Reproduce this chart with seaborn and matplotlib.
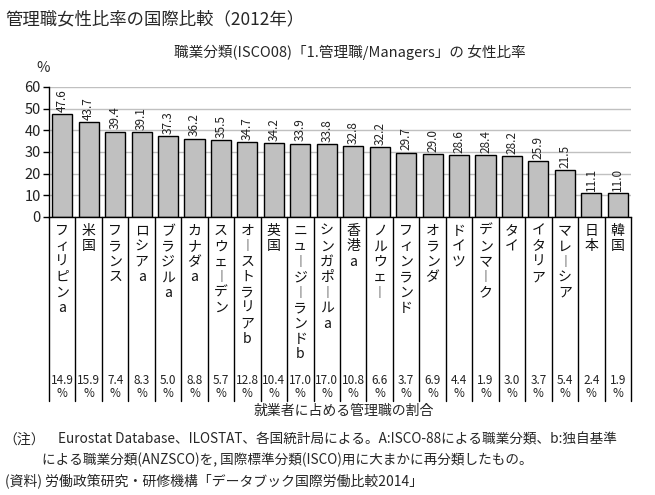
import matplotlib
matplotlib.use("Agg")
import matplotlib.pyplot as plt
import matplotlib.transforms as mtransforms
import seaborn as sns

# data
countries = ["フィリピンa", "米国", "フランス", "ロシアa", "ブラジルa", "カナダa",
             "スウェーデン", "オーストラリアb", "英国", "ニュージーランドb", "シンガポールa",
             "香港a", "ノルウェー", "フィンランド", "オランダ", "ドイツ", "デンマーク",
             "タイ", "イタリア", "マレーシア", "日本", "韓国"]
female_share = [47.6, 43.7, 39.4, 39.1, 37.3, 36.2, 35.5, 34.7, 34.2, 33.9, 33.8,
                32.8, 32.2, 29.7, 29.0, 28.6, 28.4, 28.2, 25.9, 21.5, 11.1, 11.0]
manager_share = [14.9, 15.9, 7.4, 8.3, 5.0, 8.8, 5.7, 12.8, 10.4, 17.0, 17.0,
                 10.8, 6.6, 3.7, 6.9, 4.4, 1.9, 3.0, 3.7, 5.4, 2.4, 1.9]
y_ticks = [0, 10, 20, 30, 40, 50, 60]

title = "管理職女性比率の国際比較（2012年）"
subtitle = "職業分類(ISCO08)「1.管理職/Managers」の 女性比率"
row_caption = "就業者に占める管理職の割合"
note_1 = "Eurostat Database、ILOSTAT、各国統計局による。A:ISCO-88による職業分類、b:独自基準"
note_2 = "による職業分類(ANZSCO)を, 国際標準分類(ISCO)用に大まかに再分類したもの。"
source = "(資料) 労働政策研究・研修機構「データブック国際労働比較2014」"

sns.set_theme(style="white")
plt.rcParams["font.family"] = ["Noto Sans CJK JP", "DejaVu Sans"]

W, H = 655, 495
fig = plt.figure(figsize=(W / 100, H / 100), dpi=100)
fig.patch.set_facecolor("white")


def fy(py):
    # pixel row from top -> figure fraction
    return 1 - py / H


ax = fig.add_axes([49 / W, fy(217), (631 - 49) / W, (217 - 87) / H])

sns.barplot(x=list(range(len(countries))), y=female_share, color="#c0c0c0",
            edgecolor="black", linewidth=1, width=0.76, saturation=1, ax=ax)

ax.set_xlim(-0.5, len(countries) - 0.5)
ax.set_ylim(0, 60)
ax.set_yticks(y_ticks)
ax.set_yticklabels([str(t) for t in y_ticks], fontsize=10.5, color="#222222")
ax.set_xticks([])
ax.set_xlabel("")
ax.set_ylabel("")
ax.tick_params(axis="y", length=4, width=1, color="black", direction="out", pad=2, left=True)
ax.yaxis.grid(True, color="#c0c0c0", linewidth=1)
ax.set_axisbelow(True)
for side in ["top", "right"]:
    ax.spines[side].set_visible(False)
for side in ["left", "bottom"]:
    ax.spines[side].set_color("black")
    ax.spines[side].set_linewidth(1)

# value labels above the bars
for i, v in enumerate(female_share):
    ax.text(i, v + 1.0, f"{v:.1f}", rotation=90, ha="center", va="bottom",
            fontsize=8.5, color="#222222")

# table under the axis: cell borders, country names, share of managers
trans = mtransforms.blended_transform_factory(ax.transData, fig.transFigure)
for k in range(len(countries) + 1):
    ax.plot([k - 0.5, k - 0.5], [fy(217), fy(401)], color="black", linewidth=1,
            transform=trans, clip_on=False)

for i, name in enumerate(countries):
    stacked = "\n".join(ch.replace("ー", "︱") for ch in name)
    ax.text(i, fy(224), stacked, ha="center", va="top", fontsize=10,
            linespacing=1.13, transform=trans, color="#111111")
    ax.text(i, fy(387), f"{manager_share[i]:.1f}\n%", ha="center", va="center",
            fontsize=8.5, linespacing=1.05, transform=trans, color="#222222")

fig.text(344 / W, fy(411), row_caption, ha="center", va="center", fontsize=10)

fig.text(43 / W, fy(68), "%", ha="center", va="center", fontsize=10.5)
fig.text(5 / W, fy(19), title, ha="left", va="center", fontsize=12.5)
fig.text(350 / W, fy(52), subtitle, ha="center", va="center", fontsize=10.5)

fig.text(3 / W, fy(440), "（注）", ha="left", va="center", fontsize=10)
fig.text(58 / W, fy(440), note_1, ha="left", va="center", fontsize=9.8)
fig.text(42 / W, fy(460), note_2, ha="left", va="center", fontsize=9.8)
fig.text(5 / W, fy(481), source, ha="left", va="center", fontsize=10)

fig.savefig("out.png", dpi=100)
